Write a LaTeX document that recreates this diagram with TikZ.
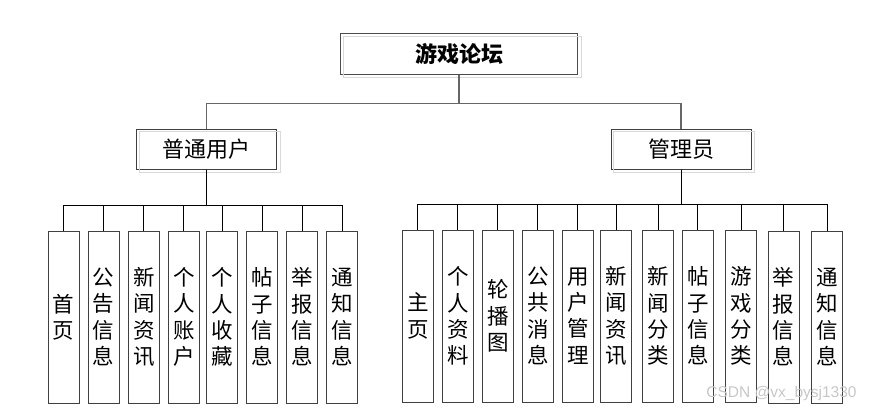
\documentclass[tikz,border=0pt]{standalone}
\usepackage{fontspec}
\newfontfamily\cjk{Noto Sans CJK SC}
\setsansfont{Liberation Sans}
\tikzset{
  topbox/.style={draw=black!70, line width=1pt, minimum width=237pt, minimum height=40pt, inner sep=0pt, font=\cjk\bfseries\fontsize{22}{26}\selectfont},
  rolebox/.style={draw=black!75, line width=1pt, minimum width=140pt, minimum height=40pt, inner sep=0pt, font=\cjk\fontsize{22}{26}\selectfont},
  leafbox/.style={draw=black!75, line width=1pt, minimum width=31pt, minimum height=172pt, inner sep=0pt, align=center, font=\cjk\fontsize{21.5}{26.3}\selectfont},
  shadeline/.style={draw=black!15, line width=1pt},
  toplink/.style={draw=black!60, line width=1.2pt},
  link/.style={draw=black, line width=0.8pt}
}
\begin{document}
\begin{tikzpicture}[x=1pt, y=-1pt]
        \useasboundingbox (0, 0) rectangle (874, 412);
        % root and roles
        \node[topbox] (forum) at (459, 54) {游戏论坛};
        \node[rolebox] (user) at (206.7, 149) {普通用户};
        \node[rolebox] (admin) at (681, 149) {管理员};
        \draw[shadeline] ([shift={(3,3)}]forum.north west) rectangle ([shift={(3,3)}]forum.south east);
        \draw[shadeline] ([shift={(3,3)}]user.north west) rectangle ([shift={(3,3)}]user.south east);
        \draw[shadeline] ([shift={(3,3)}]admin.north west) rectangle ([shift={(3,3)}]admin.south east);
        \draw[toplink] (forum.south) -- ++(0, 28.7) -| (user.north);
        \draw[toplink] (forum.south) -- ++(0, 28.7) -| (admin.north);
        % user modules
        \node[leafbox] (u1) at (63.7, 317) {首\\页};
        \node[leafbox] (u2) at (103.5, 317) {公\\告\\信\\息};
        \node[leafbox] (u3) at (143.8, 317) {新\\闻\\资\\讯};
        \node[leafbox] (u4) at (183.8, 317) {个\\人\\账\\户};
        \node[leafbox] (u5) at (222.3, 317) {个\\人\\收\\藏};
        \node[leafbox] (u6) at (262.3, 317) {帖\\子\\信\\息};
        \node[leafbox] (u7) at (302.3, 317) {举\\报\\信\\息};
        \node[leafbox] (u8) at (342.3, 317) {通\\知\\信\\息};
        \foreach \n in {u1, u2, u3, u4, u5, u6, u7, u8}
            \draw[link] (user.south) -- ++(0, 36) -| (\n.north);
        % admin modules
        \node[leafbox] (a1) at (417.8, 316) {主\\页};
        \node[leafbox] (a2) at (457.8, 316) {个\\人\\资\\料};
        \node[leafbox] (a3) at (497.8, 316) {轮\\播\\图};
        \node[leafbox] (a4) at (537.8, 316) {公\\共\\消\\息};
        \node[leafbox] (a5) at (577.8, 316) {用\\户\\管\\理};
        \node[leafbox] (a6) at (616, 316) {新\\闻\\资\\讯};
        \node[leafbox] (a7) at (658, 316) {新\\闻\\分\\类};
        \node[leafbox] (a8) at (697.8, 316) {帖\\子\\信\\息};
        \node[leafbox] (a9) at (741.3, 316) {游\\戏\\分\\类};
        \node[leafbox] (a10) at (783.7, 317) {举\\报\\信\\息};
        \node[leafbox] (a11) at (827, 317) {通\\知\\信\\息};
        \foreach \n in {a1, a2, a3, a4, a5, a6, a7, a8, a9, a10, a11}
            \draw[link] (admin.south) -- ++(0, 35.3) -| (\n.north);
        \node[font=\sffamily\fontsize{15.5}{18}\selectfont, text=black!22] (mark) at (781.5, 393) {CSDN @vx\_bysj1330};
    \end{tikzpicture}
\end{document}
